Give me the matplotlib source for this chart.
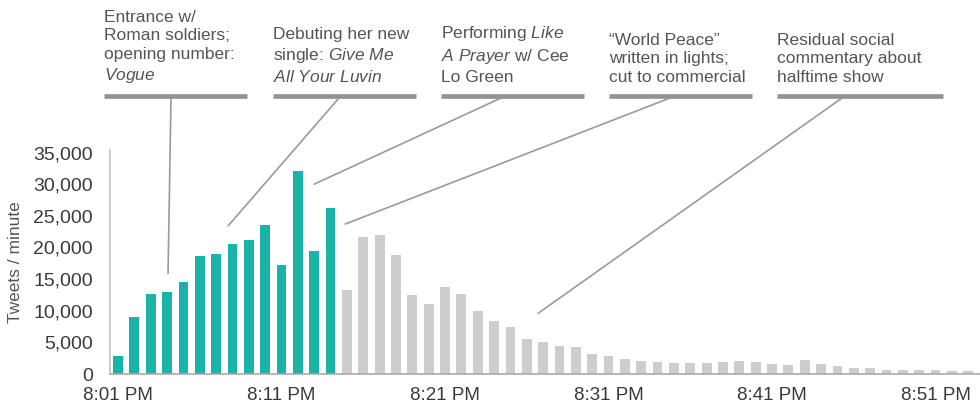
import matplotlib
matplotlib.use("Agg")
import matplotlib.pyplot as plt
from matplotlib.patches import ConnectionPatch
from matplotlib.ticker import FuncFormatter

plt.rcParams['font.family'] = ['Liberation Sans', 'DejaVu Sans']
plt.rcParams['mathtext.fontset'] = 'custom'
plt.rcParams['mathtext.rm'] = 'Liberation Sans'
plt.rcParams['mathtext.it'] = 'Liberation Sans:italic'

# tweets per minute, starting 8:01 PM
show_tweets = [2800, 9000, 12700, 13000, 14500, 18700, 18900, 20600, 21200, 23600,
               17300, 32100, 19500, 26300]
after_tweets = [13300, 21600, 21900, 18800, 12500, 11000, 13800, 12700, 10000, 8300,
                7500, 5600, 5100, 4500, 4200, 3100, 2800, 2300, 2100, 1900,
                1800, 1700, 1800, 1900, 2000, 1900, 1600, 1500, 2250, 1600,
                1200, 1000, 900, 700, 600, 600, 600, 550, 550, 500]
tick_minutes = [0, 10, 20, 30, 40, 50]
tick_labels = ['8:01 PM', '8:11 PM', '8:21 PM', '8:31 PM', '8:41 PM', '8:51 PM']

notes = [
    "Entrance w/\nRoman soldiers;\nopening number:\n$\\it{Vogue}$",
    "Debuting her new\nsingle: $\\it{Give\\ Me}$\n$\\it{All\\ Your\\ Luvin}$",
    "Performing $\\it{Like}$\n$\\it{A\\ Prayer}$ w/ Cee\nLo Green",
    "\u201cWorld Peace\u201d\nwritten in lights;\ncut to commercial",
    "Residual social\ncommentary about\nhalftime show",
]
# where each note's leader line ends (minute index, tweets)
note_targets = [(3.06, 15900), (6.73, 23400), (12.0, 30000), (13.9, 23700), (25.7, 9600)]

TEAL = '#1ab3a7'
GREY = '#cdcdcd'

W, H = 980, 411
fig = plt.figure(figsize=(W / 100, H / 100), dpi=100)
ax = fig.add_axes([110 / W, 37 / H, 1 - 110 / W, 224 / H])

x_show = list(range(len(show_tweets)))
x_after = list(range(len(show_tweets), len(show_tweets) + len(after_tweets)))
ax.bar(x_show, show_tweets, width=0.6, color=TEAL)
ax.bar(x_after, after_tweets, width=0.6, color=GREY)

ax.set_xlim(-0.49, 52.72)
ax.set_ylim(0, 35400)
ax.set_yticks(range(0, 35001, 5000))
ax.yaxis.set_major_formatter(FuncFormatter(lambda v, p: f'{int(v):,}'))
ax.set_xticks(tick_minutes)
ax.set_xticklabels(tick_labels)
ax.tick_params(axis='both', length=0, labelcolor='#3a3a3a')
ax.tick_params(axis='y', pad=12.5, labelsize=14)
ax.tick_params(axis='x', pad=9, labelsize=13.5)
ax.set_ylabel('Tweets / minute', fontsize=12.5, color='#555555', labelpad=7)

for side in ['top', 'right']:
    ax.spines[side].set_visible(False)
ax.spines['left'].set_color('#c4c4c4')
ax.spines['bottom'].set_color('#aaaaaa')
ax.spines['left'].set_linewidth(1.2)
ax.spines['bottom'].set_linewidth(1.2)

# headline bars, text and leader lines above the chart
bar_spans = [(104, 247), (273, 416), (441, 584), (609, 752), (777, 943)]
leader_x = [171, 339, 501, 670, 842]
head_y = 1 - 96 / H
for note, (x0, x1), lx, target in zip(notes, bar_spans, leader_x, note_targets):
    fig.add_artist(plt.Line2D([x0 / W, x1 / W], [head_y, head_y],
                              transform=fig.transFigure, color='#939393', lw=3.4,
                              solid_capstyle='butt'))
    fig.text(x0 / W, 1 - 85 / H, note, ha='left', va='bottom', fontsize=12.5,
             color='#555555', linespacing=1.3)
    con = ConnectionPatch(xyA=(lx / W, 1 - 98 / H), coordsA=fig.transFigure,
                          xyB=target, coordsB=ax.transData,
                          color='#9a9a9a', lw=1.2)
    fig.add_artist(con)

fig.savefig('out.png', dpi=100)
